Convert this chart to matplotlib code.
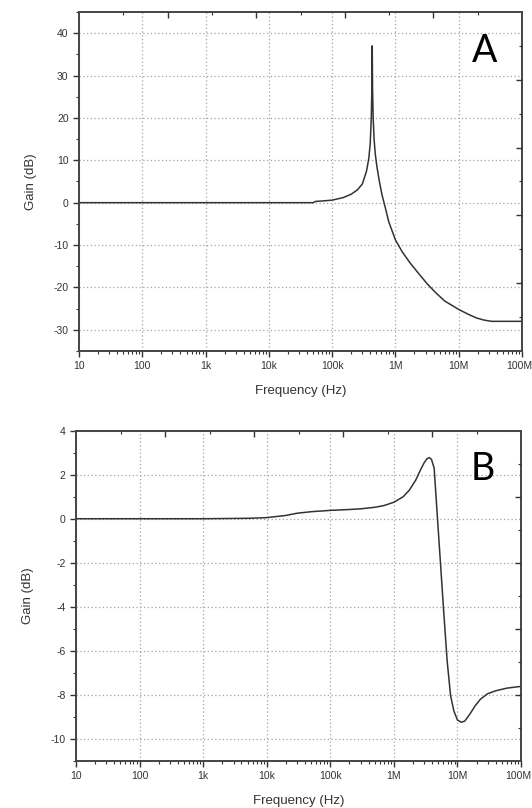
import numpy as np
import matplotlib
matplotlib.use('Agg')
import matplotlib.pyplot as plt
import matplotlib.transforms as mtransforms
from matplotlib.ticker import MultipleLocator, LogLocator, NullFormatter

plt.rcParams['font.family'] = ['Liberation Sans', 'DejaVu Sans']
plt.rcParams['axes.unicode_minus'] = False

# tick labels shared by both panels
freq_ticks = [10, 100, 1e3, 1e4, 1e5, 1e6, 1e7, 1e8]
freq_labels = ['10', '100', '1k', '10k', '100k', '1M', '10M', '100M']

# panel A: sharp resonance near 430 kHz
freq_a = [10, 1e3, 5e4, 5.5e4, 7e4, 1e5, 1.5e5, 2e5, 2.5e5, 3e5, 3.5e5, 3.8e5,
          4e5, 4.15e5, 4.25e5, 4.3e5, 4.35e5, 4.45e5, 4.6e5, 4.8e5, 5.1e5, 5.5e5,
          6.1e5, 7e5, 7.8e5, 1e6, 1.28e6, 1.7e6, 2.35e6, 3.2e6, 4.3e6, 6e6, 1e7,
          1.4e7, 1.9e7, 2.5e7, 3.3e7, 1e8]
gain_a = [0, 0, 0, 0.3, 0.4, 0.6, 1.2, 2.0, 3.0, 4.4, 7.5, 10.5,
          14, 20, 27, 37, 27, 20, 15, 11.5, 8.5, 5.5,
          2.0, -1.5, -4.4, -8.8, -11.6, -14.2, -16.8, -19.2, -21.2, -23.2, -25.2,
          -26.3, -27.2, -27.7, -28, -28]

# panel B: small bump then drop around 5 MHz
freq_b = [10, 1e3, 5e3, 1e4, 2e4, 3e4, 5e4, 1e5, 2e5, 3e5, 5e5, 7e5, 1e6,
          1.4e6, 1.75e6, 2.2e6, 2.6e6, 3.0e6, 3.3e6, 3.6e6, 3.9e6, 4.3e6, 4.8e6,
          5.4e6, 6.1e6, 6.9e6, 7.8e6, 8.8e6, 1.0e7, 1.15e7, 1.3e7, 1.55e7, 1.9e7,
          2.3e7, 3e7, 4e7, 6e7, 1e8]
gain_b = [0, 0, 0.02, 0.05, 0.15, 0.25, 0.32, 0.38, 0.42, 0.45, 0.52, 0.6, 0.75,
          1.0, 1.3, 1.75, 2.2, 2.55, 2.72, 2.78, 2.7, 2.3, 0.2,
          -2.0, -4.3, -6.5, -8.05, -8.75, -9.15, -9.25, -9.2, -8.9, -8.5,
          -8.2, -7.95, -7.82, -7.7, -7.62]

fig = plt.figure(figsize=(5.32, 8.08), dpi=100)
ax_a = fig.add_axes([0.1485, 0.5656, 0.8327, 0.4196])
ax_b = fig.add_axes([0.1429, 0.0585, 0.8365, 0.4084])


def style_panel(ax, ylim, ymajor, yminor, letter):
    ax.set_xscale('log')
    ax.set_xlim(10, 1e8)
    ax.set_ylim(*ylim)
    ax.set_xticks(freq_ticks)
    ax.set_xticklabels(freq_labels)
    ax.xaxis.set_minor_locator(LogLocator(base=10, subs=np.arange(2, 10)))
    ax.xaxis.set_minor_formatter(NullFormatter())
    ax.yaxis.set_major_locator(MultipleLocator(ymajor))
    ax.yaxis.set_minor_locator(MultipleLocator(yminor))
    ax.tick_params(which='major', direction='out', length=4, width=1, labelsize=7.5,
                   color='#333333', labelcolor='#333333')
    ax.tick_params(which='minor', direction='out', length=2.5, width=0.8, color='#333333')
    ax.grid(True, which='major', linestyle=(0, (1, 2)), color='#a5a5a5', linewidth=0.9)
    for s in ax.spines.values():
        s.set_linewidth(1.4)
        s.set_color('#444444')
    # nudge the last label so it stays inside the figure
    last = ax.get_xticklabels()[-1]
    last.set_transform(last.get_transform() +
                       mtransforms.ScaledTranslation(-3 / 100, 0, fig.dpi_scale_trans))
    ax.set_xlabel('Frequency (Hz)', fontsize=9.5, color='#333333', labelpad=10)
    ax.set_ylabel('Gain (dB)', fontsize=9.5, color='#333333', labelpad=12)
    ax.text(0.915, 0.885, letter, transform=ax.transAxes, fontsize=27,
            family='Lato', ha='center', va='center', color='black')

    # unlabelled inward ticks on the right and top edges
    right = ax.twinx()
    right.set_ylim(0, 1)
    right.set_yticks(np.arange(0.2, 1.0, 0.2))
    right.set_yticks(np.arange(0.1, 1.0, 0.2), minor=True)
    right.set_yticklabels([])
    right.tick_params(which='major', direction='in', length=4, width=1, color='#333333')
    right.tick_params(which='minor', direction='in', length=2.5, width=0.8, color='#333333')
    for s in right.spines.values():
        s.set_visible(False)
    twin_top = ax.twiny()
    twin_top.set_xlim(0, 1)
    twin_top.set_xticks(np.arange(0.2, 1.0, 0.2))
    twin_top.set_xticks(np.arange(0.1, 1.0, 0.2), minor=True)
    twin_top.set_xticklabels([])
    twin_top.tick_params(which='major', direction='in', length=4, width=1, color='#333333')
    twin_top.tick_params(which='minor', direction='in', length=2.5, width=0.8, color='#333333')
    for s in twin_top.spines.values():
        s.set_visible(False)


ax_a.plot(freq_a, gain_a, color='#333333', linewidth=1.1)
style_panel(ax_a, (-35, 45), 10, 5, 'A')

ax_b.plot(freq_b, gain_b, color='#333333', linewidth=1.1)
style_panel(ax_b, (-11, 4), 2, 1, 'B')

fig.savefig('out.png', dpi=100)
